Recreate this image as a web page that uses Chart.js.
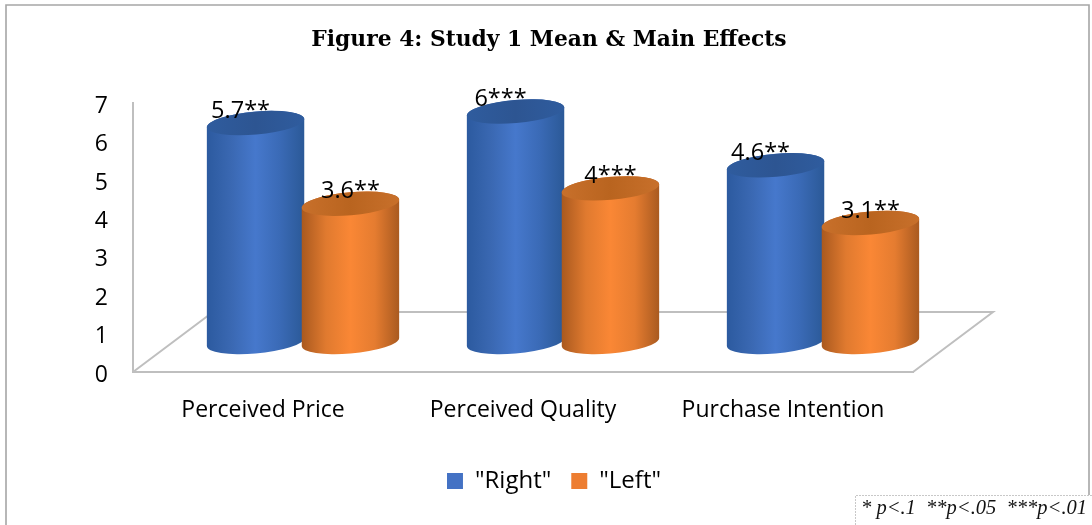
<!DOCTYPE html>
<html><head><meta charset="utf-8">
<style>html,body{margin:0;padding:0;background:#fff}canvas{display:block}</style>
<script src="https://cdn.jsdelivr.net/npm/chart.js@4"></script>
</head><body>
<div style="width:1092px;height:525px;position:relative"><canvas id="c" width="1092" height="525"></canvas></div>
<script>
const categories = ['Perceived Price', 'Perceived Quality', 'Purchase Intention'];
const rightValues = [5.7, 6, 4.6];
const leftValues = [3.6, 4, 3.1];
const significance = ['**', '***', '**'];
const seriesNames = ['"Right"', '"Left"'];
const titleText = 'Figure 4: Study 1 Mean & Main Effects';
const footnoteText = '* p<.1  **p<.05  ***p<.01';

const SANS = '"Open Sans", sans-serif';
const DEPTH_X = 80, DEPTH_Y = 60;
const palettes = [
  {stops:['#2c5a9f','#3a68b2','#4678cc','#3a6ab6','#2b5997'], top:'#2f5c9e', topMid:'#2d5592'},
  {stops:['#a9591f','#e07a2f','#fa8735','#e57c30','#a95a20'], top:'#c8702b', topMid:'#b9641f'}
];
const labelDx = [-15, 0];

function cylinder(ctx, cx, topY, baseY, width, pal){
  const rx = width/2, ry = 11.5, rot = -5*Math.PI/180;
  const t0 = Math.atan(-(ry/rx)*Math.tan(rot));
  const g = ctx.createLinearGradient(cx-rx,0,cx+rx,0);
  pal.stops.forEach((s,i)=>g.addColorStop(i/(pal.stops.length-1),s));
  ctx.beginPath();
  ctx.ellipse(cx,baseY,rx,ry,rot,t0,t0+Math.PI,false);
  ctx.ellipse(cx,topY,rx,ry,rot,t0+Math.PI,t0+2*Math.PI,false);
  ctx.closePath();
  ctx.fillStyle = g; ctx.fill();
  const tg = ctx.createLinearGradient(cx-rx,0,cx+rx,0);
  tg.addColorStop(0,pal.top);tg.addColorStop(.5,pal.topMid);tg.addColorStop(1,pal.top);
  ctx.beginPath();
  ctx.ellipse(cx,topY,rx,ry,rot,0,2*Math.PI);
  ctx.fillStyle = tg; ctx.fill();
}

const scene = {
  id:'scene',
  afterLayout(chart){
    chart.legend.left += 5; chart.legend.right += 5;
  },
  beforeDraw(chart){
    const c = chart.ctx;
    c.save();
    c.strokeStyle='#a6a6a6';c.lineWidth=1.6;
    c.beginPath();c.moveTo(6,525);c.lineTo(6,5);c.lineTo(1089,5);c.lineTo(1089,495);c.stroke();
    c.restore();
  },
  beforeDatasetsDraw(chart){
    const c = chart.ctx, a = chart.chartArea;
    c.save();
    c.strokeStyle='#bfbfbf';c.lineWidth=2;
    c.beginPath();
    c.moveTo(a.left,a.bottom);c.lineTo(a.left+DEPTH_X,a.bottom-DEPTH_Y);
    c.lineTo(a.right+DEPTH_X,a.bottom-DEPTH_Y);c.lineTo(a.right,a.bottom);
    c.stroke();
    c.restore();
  },
  beforeDatasetDraw(){ return false; },
  afterDatasetsDraw(chart){
    const c = chart.ctx;
    const metas = [chart.getDatasetMeta(0), chart.getDatasetMeta(1)];
    metas.forEach((m,d)=>m.data.forEach(el=>{
      cylinder(c, el.x+DEPTH_X/2, el.y-DEPTH_Y/2, el.base-DEPTH_Y/2, el.width, palettes[d]);
    }));
    c.save();
    c.fillStyle='#000';c.font='23.5px '+SANS;c.textAlign='center';c.textBaseline='middle';
    metas.forEach((m,d)=>m.data.forEach((el,i)=>{
      const v = chart.data.datasets[d].data[i];
      c.fillText(v+significance[i], el.x+DEPTH_X/2+labelDx[d], el.y-DEPTH_Y/2-12);
    }));
    c.restore();
  },
  afterDraw(chart){
    const c = chart.ctx;
    c.save();
    c.fillStyle='#fff';c.fillRect(855,495,237,30);
    c.strokeStyle='#c8c8c8';c.lineWidth=1;c.setLineDash([2,1]);
    c.beginPath();c.moveTo(855.5,525);c.lineTo(855.5,495.5);c.lineTo(1092,495.5);c.stroke();
    c.setLineDash([]);
    c.fillStyle='#111';c.font='italic 20.5px "Liberation Serif", serif';c.textAlign='left';c.textBaseline='middle';
    c.fillText(footnoteText,861,509);
    c.restore();
  }
};

new Chart(document.getElementById('c'),{
  type:'bar',
  plugins:[scene],
  data:{
    labels:categories,
    datasets:[
      {label:seriesNames[0],data:rightValues,backgroundColor:'#4472c4',categoryPercentage:.73,barPercentage:1.03},
      {label:seriesNames[1],data:leftValues,backgroundColor:'#ed7d31',categoryPercentage:.73,barPercentage:1.03}
    ]
  },
  options:{
    responsive:false,animation:false,
    layout:{padding:{left:6,right:0,top:0,bottom:22}},
    plugins:{
      tooltip:{enabled:false},
      title:{display:true,text:titleText,color:'#000',
        font:{family:'"DejaVu Serif", serif',size:21.8,weight:'bold'},
        padding:{top:27,bottom:50}},
      legend:{position:'bottom',labels:{color:'#000',font:{family:SANS,size:24},boxWidth:16,boxHeight:16,padding:20}}
    },
    scales:{
      x:{grid:{display:false,drawTicks:false},border:{display:true,color:'#bfbfbf',width:2},
        ticks:{color:'#000',font:{family:SANS,size:23},padding:25,maxRotation:0},
        afterFit(s){s.height=77;}},
      y:{min:0,max:7,grid:{display:false,drawTicks:false},border:{display:true,color:'#bfbfbf',width:2},
        ticks:{stepSize:1,color:'#000',font:{family:SANS,size:23},padding:25,labelOffset:3},
        afterFit(s){s.width=127;}},
      spacer:{type:'linear',position:'right',display:true,
        grid:{display:false,drawTicks:false},border:{display:false},ticks:{display:false},
        afterFit(s){s.width=179;}}
    }
  }
});
</script>
</body></html>
